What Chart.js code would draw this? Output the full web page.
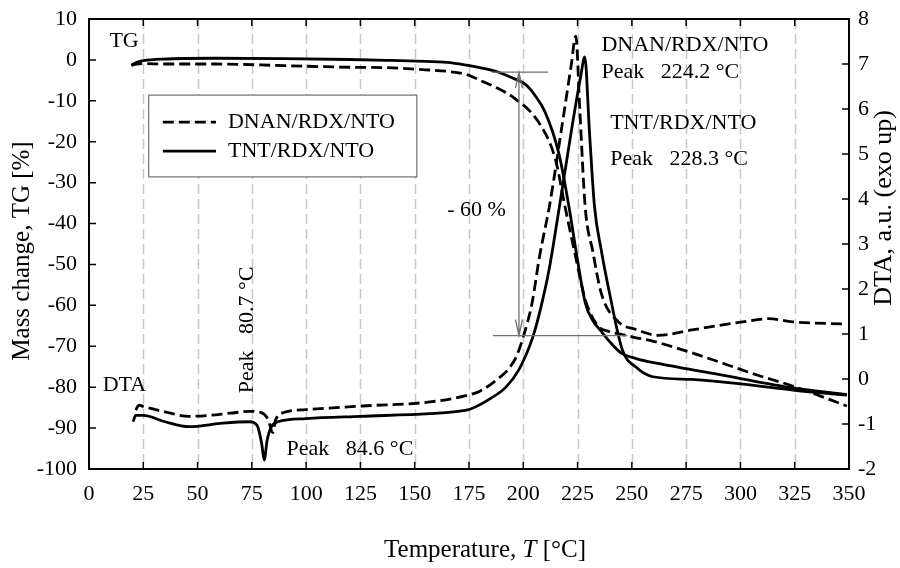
<!DOCTYPE html>
<html>
<head>
<meta charset="utf-8">
<script src="https://cdn.jsdelivr.net/npm/chart.js@4.4.0/dist/chart.umd.min.js"></script>
<style>
  html, body { margin: 0; padding: 0; background: #fff; }
  #wrap { width: 900px; height: 568px; }
</style>
</head>
<body>
<div id="wrap"><canvas id="chart" width="900" height="568"></canvas></div>
<script>
// TG / DTA curves (temperature in °C)
const tgTntT = [19.5, 22, 25, 34, 58, 90, 120, 137, 151, 165, 174, 181, 188, 194, 201, 205, 210, 216.4, 221, 225, 228.6, 232, 236, 240, 245, 252, 262, 293, 324, 349];
const tgTnt = [-1.3, -0.6, -0.2, 0.2, 0.4, 0.3, 0.1, -0.1, -0.3, -0.6, -1.3, -2.0, -2.9, -4.2, -6.0, -8.4, -12.7, -22.9, -35.8, -49, -59.5, -63.7, -66.4, -69, -71.6, -73, -74.2, -77.2, -80.2, -81.8];

const tgDnanT = [19.5, 22, 25, 34, 58, 90, 120, 137, 151, 165, 174, 180.5, 187, 196, 207, 214.8, 219, 224, 228.6, 234, 239.5, 246, 251, 260, 277.6, 308.7, 324, 349];
const tgDnan = [-1.3, -1.0, -0.9, -1.0, -1.0, -1.4, -1.8, -1.9, -2.3, -2.8, -3.6, -5.1, -6.6, -9.4, -15.2, -24.3, -35.3, -47.9, -58.7, -64.8, -66.4, -67.2, -67.8, -68.8, -71.6, -77.2, -79.7, -84.6];

const dtaDnanT = [21.5, 23, 25, 35, 46, 55, 65, 74, 79, 82.5, 84.6, 86, 90, 100, 126, 157, 172.6, 180, 188, 193, 197, 200, 204, 207.5, 212, 218, 222, 224.2, 226, 228.5, 232, 236, 243.8, 252, 262, 277.6, 290, 301, 313, 324, 349];
const dtaDnan = [-0.69, -0.58, -0.61, -0.73, -0.83, -0.81, -0.76, -0.72, -0.74, -0.9, -1.19, -0.9, -0.74, -0.68, -0.6, -0.51, -0.38, -0.27, -0.01, 0.21, 0.52, 0.94, 1.68, 2.73, 3.83, 5.68, 6.95, 7.62, 6.0, 3.83, 2.84, 1.89, 1.27, 1.1, 0.97, 1.09, 1.19, 1.27, 1.34, 1.27, 1.22];

const dtaTntT = [20.3, 21.5, 25, 35, 46, 61.7, 74, 77.5, 79.5, 80.7, 82, 84, 87, 100, 125, 157, 170, 176, 185, 192, 198, 204.3, 208, 212, 216.5, 222.7, 226.5, 228.3, 230.5, 232.8, 236, 239.5, 245.6, 252, 259.7, 277.6, 300, 325, 349];
const dtaTnt = [-0.95, -0.81, -0.81, -0.95, -1.06, -0.98, -0.95, -1.04, -1.43, -1.8, -1.37, -1.06, -0.95, -0.88, -0.83, -0.77, -0.72, -0.66, -0.43, -0.18, 0.21, 0.92, 1.57, 2.46, 3.79, 5.68, 6.74, 7.16, 5.47, 3.83, 2.84, 1.96, 0.65, 0.26, 0.05, -0.01, -0.11, -0.25, -0.36];

// axes
const xTicks = [0, 25, 50, 75, 100, 125, 150, 175, 200, 225, 250, 275, 300, 325, 350];
const tgTicks = [10, 0, -10, -20, -30, -40, -50, -60, -70, -80, -90, -100];
const dtaTicks = [8, 7, 6, 5, 4, 3, 2, 1, 0, -1, -2];

const seriesNames = ['DNAN/RDX/NTO', 'TNT/RDX/NTO'];
const FONT = "'Liberation Serif', 'Times New Roman', serif";
const DASH = [11, 5];

function pts(xs, ys) {
    return xs.map((x, i) => ({ x: x, y: ys[i] }));
}

function lineSet(label, xs, ys, axis, dashed) {
    return {
        label: label,
        data: pts(xs, ys),
        yAxisID: axis,
        borderColor: '#000',
        borderWidth: 2.8,
        borderDash: dashed ? DASH : [],
        pointRadius: 0,
        fill: false,
        cubicInterpolationMode: 'monotone'
    };
}

// fixed scale sizes so the plot frame lands at 89..849 x 19..469
function fixSize(prop, size) {
    return s => {
        s[prop] = size;
        s.paddingTop = 0;
        s.paddingBottom = 0;
        s.paddingLeft = 0;
        s.paddingRight = 0;
    };
}

// grid lines, frame, inside ticks, notes, legend and axis titles
const decor = {
    id: 'decor',
    beforeDatasetsDraw(chart) {
        const { ctx, chartArea: a, scales: { x } } = chart;
        ctx.save();
        ctx.strokeStyle = '#c8c8c8';
        ctx.lineWidth = 1.5;
        ctx.setLineDash([10, 5]);
        xTicks.slice(1, -1).forEach(t => {
            const px = Math.round(x.getPixelForValue(t)) + 0.5;
            ctx.beginPath();
            ctx.moveTo(px, a.top);
            ctx.lineTo(px, a.bottom);
            ctx.stroke();
        });
        ctx.restore();
    },
    afterDraw(chart) {
        const { ctx, chartArea: a, scales: { x, y, y2 } } = chart;
        ctx.save();

        // frame and ticks pointing inward
        ctx.strokeStyle = '#000';
        ctx.lineWidth = 2;
        ctx.strokeRect(a.left, a.top, a.right - a.left, a.bottom - a.top);
        ctx.lineWidth = 1.5;
        ctx.beginPath();
        xTicks.forEach(t => {
            const px = x.getPixelForValue(t);
            ctx.moveTo(px, a.bottom); ctx.lineTo(px, a.bottom - 7);
            ctx.moveTo(px, a.top); ctx.lineTo(px, a.top + 7);
        });
        tgTicks.forEach(v => {
            const py = y.getPixelForValue(v);
            ctx.moveTo(a.left, py); ctx.lineTo(a.left + 7, py);
        });
        dtaTicks.forEach(v => {
            const py = y2.getPixelForValue(v);
            ctx.moveTo(a.right, py); ctx.lineTo(a.right - 7, py);
        });
        ctx.stroke();

        // -60 % marker: gray guide lines and double arrow
        const gx = x.getPixelForValue(198);
        const gTop = y.getPixelForValue(-3);
        const gBot = y.getPixelForValue(-67.4);
        ctx.strokeStyle = '#707070';
        ctx.lineWidth = 1.3;
        ctx.beginPath();
        ctx.moveTo(x.getPixelForValue(185.5), gTop); ctx.lineTo(x.getPixelForValue(211.5), gTop);
        ctx.moveTo(x.getPixelForValue(186), gBot); ctx.lineTo(x.getPixelForValue(248), gBot);
        ctx.moveTo(gx, gTop); ctx.lineTo(gx, gBot);
        ctx.moveTo(gx - 3.5, gTop + 16); ctx.lineTo(gx, gTop); ctx.lineTo(gx + 3.5, gTop + 16);
        ctx.moveTo(gx - 3.5, gBot - 16); ctx.lineTo(gx, gBot); ctx.lineTo(gx + 3.5, gBot - 16);
        ctx.stroke();

        // notes
        ctx.fillStyle = '#000';
        ctx.font = '22px ' + FONT;
        ctx.textBaseline = 'middle';
        ctx.textAlign = 'left';
        const note = (s, t, v) => ctx.fillText(s, x.getPixelForValue(t), y.getPixelForValue(v));
        note('TG', 9.4, 4.6);
        note('DTA', 6.3, -79.5);
        note('- 60 %', 165, -36.7);
        note('Peak   84.6 \u00B0C', 91, -95.2);
        note(seriesNames[0], 236, 3.6);
        note('Peak   224.2 \u00B0C', 236, -3.0);
        note(seriesNames[1], 240, -15.4);
        note('Peak   228.3 \u00B0C', 240, -24.3);

        ctx.save();
        ctx.translate(x.getPixelForValue(72.7), y.getPixelForValue(-81.5));
        ctx.rotate(-Math.PI / 2);
        ctx.fillText('Peak   80.7 \u00B0C', 0, 0);
        ctx.restore();

        // legend box
        const lx0 = x.getPixelForValue(27.5), lx1 = x.getPixelForValue(151);
        const ly0 = y.getPixelForValue(-8.6), ly1 = y.getPixelForValue(-28.6);
        ctx.fillStyle = '#fff';
        ctx.fillRect(lx0, ly0, lx1 - lx0, ly1 - ly0);
        ctx.strokeStyle = '#555';
        ctx.lineWidth = 1;
        ctx.strokeRect(lx0, ly0, lx1 - lx0, ly1 - ly0);
        [-15.2, -22.3].forEach((v, i) => {
            const py = y.getPixelForValue(v);
            ctx.strokeStyle = '#000';
            ctx.lineWidth = 2.8;
            ctx.setLineDash(i === 0 ? DASH : []);
            ctx.beginPath();
            ctx.moveTo(x.getPixelForValue(34), py);
            ctx.lineTo(x.getPixelForValue(58.5), py);
            ctx.stroke();
            ctx.setLineDash([]);
            ctx.fillStyle = '#000';
            ctx.fillText(seriesNames[i], x.getPixelForValue(64), py);
        });

        // axis titles
        const TFONT = '25px ' + FONT;
        ctx.font = TFONT;
        ctx.textAlign = 'center';
        ctx.save();
        ctx.translate(22, 251);
        ctx.rotate(-Math.PI / 2);
        ctx.fillText('Mass change, TG [%]', 0, 0);
        ctx.restore();
        ctx.save();
        ctx.translate(884, 208);
        ctx.rotate(-Math.PI / 2);
        ctx.font = '26px ' + FONT;
        ctx.fillText('DTA, a.u. (exo up)', 0, 0);
        ctx.restore();

        const p1 = 'Temperature, ', p2 = 'T', p3 = ' [\u00B0C]';
        ctx.font = TFONT;
        const w1 = ctx.measureText(p1).width, w3 = ctx.measureText(p3).width;
        ctx.font = 'italic ' + TFONT;
        const w2 = ctx.measureText(p2).width;
        let cx = 485 - (w1 + w2 + w3) / 2;
        const ty = 550;
        ctx.textAlign = 'left';
        ctx.font = TFONT;
        ctx.fillText(p1, cx, ty); cx += w1;
        ctx.font = 'italic ' + TFONT;
        ctx.fillText(p2, cx, ty); cx += w2;
        ctx.font = TFONT;
        ctx.fillText(p3, cx, ty);

        ctx.restore();
    }
};

const tickFont = { family: FONT, size: 22 };

new Chart(document.getElementById('chart'), {
    type: 'line',
    data: {
        datasets: [
            lineSet('TG ' + seriesNames[0], tgDnanT, tgDnan, 'y', true),
            lineSet('TG ' + seriesNames[1], tgTntT, tgTnt, 'y', false),
            lineSet('DTA ' + seriesNames[0], dtaDnanT, dtaDnan, 'y2', true),
            lineSet('DTA ' + seriesNames[1], dtaTntT, dtaTnt, 'y2', false)
        ]
    },
    options: {
        responsive: false,
        devicePixelRatio: 1,
        animation: false,
        layout: { padding: { top: 19, left: 0, right: 0, bottom: 0 } },
        plugins: {
            legend: { display: false },
            tooltip: { enabled: false }
        },
        scales: {
            x: {
                type: 'linear',
                min: 0,
                max: 350,
                afterBuildTicks: s => { s.ticks = xTicks.map(v => ({ value: v })); },
                afterFit: fixSize('height', 99),
                grid: { display: false, drawTicks: false },
                border: { display: false },
                ticks: { font: tickFont, color: '#000', padding: 12, autoSkip: false, maxRotation: 0 }
            },
            y: {
                position: 'left',
                min: -100,
                max: 10,
                afterBuildTicks: s => { s.ticks = tgTicks.map(v => ({ value: v })); },
                afterFit: fixSize('width', 89),
                grid: { display: false, drawTicks: false },
                border: { display: false },
                ticks: { font: tickFont, color: '#000', padding: 12 }
            },
            y2: {
                position: 'right',
                min: -2,
                max: 8,
                afterBuildTicks: s => { s.ticks = dtaTicks.map(v => ({ value: v })); },
                afterFit: fixSize('width', 51),
                grid: { display: false, drawTicks: false },
                border: { display: false },
                ticks: { font: tickFont, color: '#000', padding: 9 }
            }
        }
    },
    plugins: [decor]
});
</script>
</body>
</html>
